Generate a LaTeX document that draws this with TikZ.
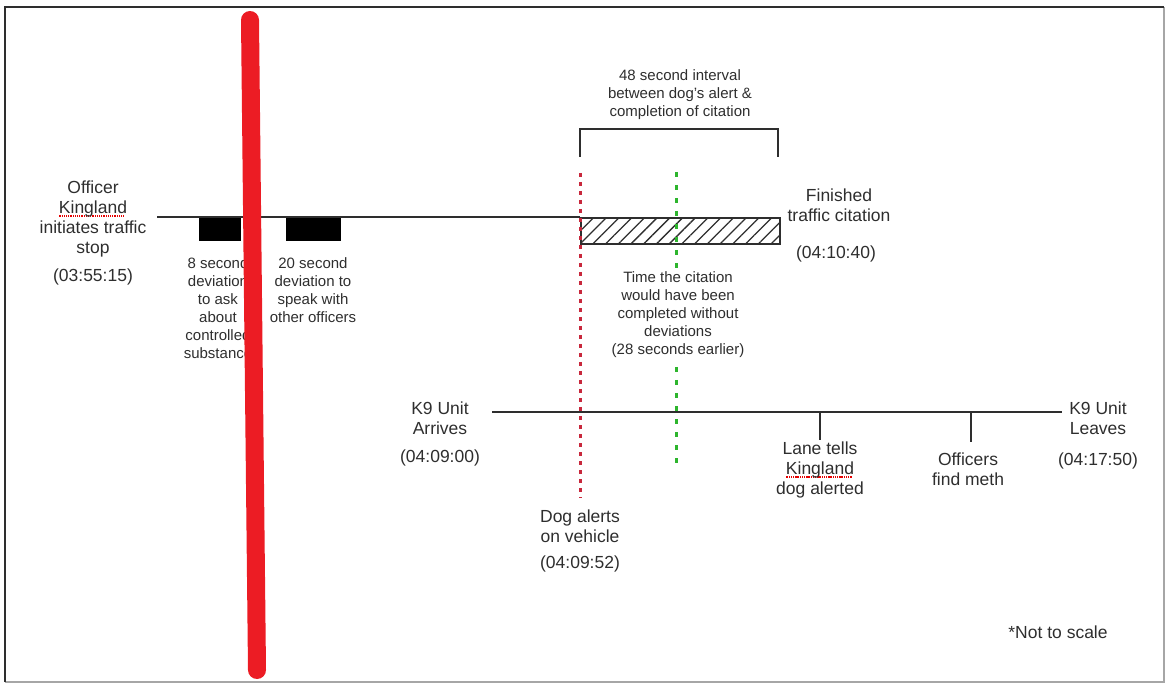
\documentclass[tikz,border=0pt]{standalone}
\usepackage{fontspec}
\setmainfont{Liberation Sans}
\usetikzlibrary{patterns.meta}

\definecolor{inkgray}{HTML}{2E2E2E}
\definecolor{alertred}{HTML}{C8283C}
\definecolor{plangreen}{HTML}{2DB52D}
\definecolor{markerred}{HTML}{EC1C24}

% red dotted spell-check mark under a word
\newcommand{\spellmark}[1]{\setbox0\hbox{#1}\leavevmode\rlap{\raisebox{-3pt}{\color{red!90!black}\hbox to \wd0{\leaders\hbox to 2.2pt{\hss\rule{1.3pt}{1.3pt}\hss}\hfill}}}\box0}

\begin{document}
\begin{tikzpicture}[x=1pt,y=-1pt,
  bigtxt/.style={align=center,inner sep=0pt,text=inkgray,font=\fontsize{17.5}{20}\selectfont},
  smalltxt/.style={align=center,inner sep=0pt,text=inkgray,font=\fontsize{15}{18}\selectfont},
  tline/.style={draw=inkgray,line width=2.4pt},
  devbox/.style={fill=black,inner sep=0pt,minimum height=23pt,anchor=north west}]
  \useasboundingbox (0,0) rectangle (1167,684);
  % frame
  \draw[black!35,line width=1.2pt] (1164,7) -- (1164,682) -- (5,682);
  \draw[inkgray,line width=2pt] (5,682) -- (5,7) -- (1164,7);

  % traffic stop timeline
  \node[devbox,minimum width=42pt] (dev8) at (199,218) {};
  \node[devbox,minimum width=55pt] (dev20) at (286,218) {};
  \node[draw=inkgray,line width=2pt,pattern={Lines[angle=45,distance=9pt,line width=1.3pt]},pattern color=inkgray,
    minimum width=199pt,minimum height=26pt,inner sep=0pt,anchor=north west] (citation) at (580,217) {};
  \coordinate (stopStart) at (157,217);
  \draw[tline] (stopStart) -- (citation.north west);

  \node[bigtxt] (officer) at (93,219) {Officer\\\spellmark{Kingland}\\initiates traffic\\stop};
  \node[bigtxt] (officerTime) at (93,277) {(03:55:15)};
  \node[smalltxt] (dev8text) at (218,308) {8 second\\deviation\\to ask\\about\\controlled\\substance};
  \node[smalltxt] (dev20text) at (313,290) {20 second\\deviation to\\speak with\\other officers};
  \node[bigtxt] (finished) at (839,205) {Finished\\traffic citation};
  \node[bigtxt] (finishedTime) at (836,254) {(04:10:40)};

  % bracket over the interval
  \coordinate (brL) at (580,157);
  \coordinate (brR) at (778,157);
  \draw[tline] (brL) -- ++(0,-28) -| (brR);
  \node[smalltxt] (interval) at (680,95) {48 second interval\\between dog's alert \&\\completion of citation};

  % K9 timeline
  \coordinate (k9Start) at (492,412);
  \coordinate (k9End) at (1062,412);
  \draw[tline] (k9Start) -- (k9End);
  \coordinate (laneTick) at (820,412);
  \coordinate (methTick) at (971,412);
  \draw[tline] (laneTick) -- ++(0,28);
  \draw[tline] (methTick) -- ++(0,30);

  \node[bigtxt] (arrive) at (440,418) {K9 Unit\\Arrives};
  \node[bigtxt] (arriveTime) at (440,458) {(04:09:00)};
  \node[bigtxt] (dogAlert) at (580,526) {Dog alerts\\on vehicle};
  \node[bigtxt] (dogAlertTime) at (580,564) {(04:09:52)};
  \node[bigtxt] (lane) at (820,470) {Lane tells\\\spellmark{Kingland}\\dog alerted};
  \node[bigtxt] (meth) at (968,469) {Officers\\find meth};
  \node[bigtxt] (leave) at (1098,418) {K9 Unit\\Leaves};
  \node[bigtxt] (leaveTime) at (1098,461) {(04:17:50)};

  % dashed markers
  \coordinate (alertTop) at (580,173);
  \coordinate (alertEnd) at (580,498);
  \draw[alertred,line width=3pt,dash pattern=on 4pt off 5pt] (alertTop) -- (alertEnd);
  \coordinate (planTop) at (676,172);
  \coordinate (planEnd) at (676,468);
  \draw[plangreen,line width=3pt,dash pattern=on 5pt off 8pt] (planTop) -- (planEnd);
  \node[smalltxt,fill=white,inner sep=3pt] (planText) at (678,315) {Time the citation\\would have been\\completed without\\deviations\\(28 seconds earlier)};

  \node[bigtxt] (notScale) at (1058,632) {*Not to scale};

  % red strike across the first deviation
  \coordinate (strikeTop) at (250,20);
  \coordinate (strikeEnd) at (257,670);
  \draw[markerred,line width=18pt,line cap=round] (strikeTop) -- (strikeEnd);
\end{tikzpicture}
\end{document}
